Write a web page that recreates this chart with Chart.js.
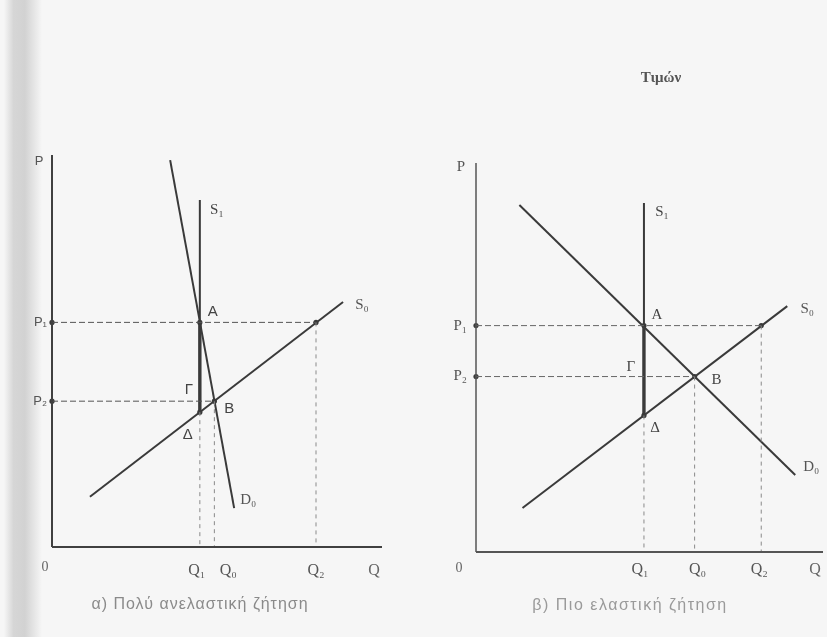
<!DOCTYPE html>
<html>
<head>
<meta charset="utf-8">
<script src="https://cdn.jsdelivr.net/npm/chart.js@4.4.1/dist/chart.umd.min.js"></script>
<style>
html,body{margin:0;padding:0;background:#f6f6f6;width:827px;height:637px;overflow:hidden}
#strip{position:absolute;left:4px;top:0;width:38px;height:637px;
  background:linear-gradient(to right,rgba(214,214,214,0) 0%,#d6d6d6 25%,#d2d2d2 55%,rgba(220,220,220,0) 100%);}
canvas{position:absolute;left:0;top:0}
</style>
</head>
<body>
<div id="strip"></div>
<canvas id="left" width="827" height="637"></canvas>
<canvas id="right" width="827" height="637"></canvas>
<script>
// ---------- data (in diagram units, both axes 0..10) ----------
const axisRange = [0, 10];

// panel α : very inelastic demand
const leftQuantities = [4.48, 4.92, 8.0];   // Q1, Q0, Q2
const leftPrices = [5.73, 3.72];            // P1, P2
const leftD0 = [[3.58, 9.87], [5.52, 0.99]];
const leftS0 = [[1.15, 1.28], [8.82, 6.25]];
const leftS1Top = 8.85;
const leftDeltaPrice = 3.44;

// panel β : more elastic demand
const rightQuantities = [4.84, 6.30, 8.22]; // Q1, Q0, Q2
const rightPrices = [5.82, 4.51];           // P1, P2
const rightD0 = [[1.25, 8.92], [9.20, 1.98]];
const rightS0 = [[1.34, 1.13], [8.97, 6.32]];
const rightS1Top = 8.97;
const rightDeltaPrice = 3.51;

// text
const priceTickLabels = ['P₁', 'P₂'];
const quantityTickLabels = ['Q₁', 'Q₀', 'Q₂'];
const axisNames = ['P', 'Q', '0'];
const curveNames = ['S₁', 'S₀', 'D₀'];
const pointNames = ['A', 'Γ', 'B', 'Δ'];
const captions = ['α) Πολύ ανελαστική ζήτηση', 'β) Πιο ελαστική ζήτηση'];
const headerText = 'Τιμών';

// ---------- styling ----------
const INK = '#3a3a3a';
const SERIF = '"Liberation Serif","DejaVu Serif",serif';
const SANS = '"Liberation Sans","DejaVu Sans",sans-serif';

const pt = (a) => ({x: a[0], y: a[1]});

function buildDatasets(Q, P, D0, S0, s1Top, dP, st) {
  const [q1, q0, q2] = Q, [p1, p2] = P, top = axisRange[1], o = axisRange[0];
  const solid = (data, w, c) => ({data, showLine: true, borderColor: c || INK, borderWidth: w,
    pointRadius: 0, clip: false, tension: 0, fill: false});
  const dashed = (data, c, dash) => ({data, showLine: true, borderColor: c, borderWidth: 1,
    borderDash: dash, pointRadius: 0, clip: false, fill: false});
  return [
    solid([{x: o, y: o}, {x: o, y: top}], st.yAxisW, st.axisColor),
    solid([{x: o, y: o}, {x: top, y: o}], st.xAxisW, st.axisColor),
    dashed([{x: o, y: p1}, {x: q2, y: p1}], st.hDash, [6, 3]),
    dashed([{x: o, y: p2}, {x: q0, y: p2}], st.hDash, [6, 3]),
    dashed([{x: q1, y: dP}, {x: q1, y: o}], st.vDash, [4, 4]),
    dashed([{x: q0, y: p2}, {x: q0, y: o}], st.vDash, [4, 4]),
    dashed([{x: q2, y: p1}, {x: q2, y: o}], st.vDash, [4, 4]),
    solid(D0.map(pt), 2),
    solid(S0.map(pt), 2),
    solid([{x: q1, y: s1Top}, {x: q1, y: p1}], 2),
    solid([{x: q1, y: p1}, {x: q1, y: dP}], 3.4),
    {data: [{x: q1, y: p1}, {x: q0, y: p2}, {x: q2, y: p1}, {x: q1, y: dP},
            {x: o, y: p1}, {x: o, y: p2}],
     showLine: false, pointRadius: 2.6, pointBackgroundColor: INK, pointBorderWidth: 0, clip: false}
  ];
}

function buildLabels(Q, P, D0, S0, s1Top, dP, off) {
  const [q1, q0, q2] = Q, [p1, p2] = P, top = axisRange[1], o = axisRange[0];
  const L = [];
  const add = (text, x, y, d, font, color, align) => L.push({text, x, y, dx: d[0], dy: d[1], font, color, align});
  const f15 = '15px ' + SERIF;
  add(axisNames[0], o, top, off.P, off.pFont, '#555', 'center');
  add(axisNames[1], top, o, off.Q, '16px ' + SERIF, '#666', 'center');
  add(axisNames[2], o, o, off.zero, '14px ' + SERIF, '#666', 'center');
  add(priceTickLabels[0], o, p1, off.p1, off.pFont, '#555', 'right');
  add(priceTickLabels[1], o, p2, off.p2, off.pFont, '#555', 'right');
  add(quantityTickLabels[0], q1, o, off.q1, '16px ' + SERIF, '#555', 'center');
  add(quantityTickLabels[1], q0, o, off.q0, '16px ' + SERIF, '#555', 'center');
  add(quantityTickLabels[2], q2, o, off.q2, '16px ' + SERIF, '#555', 'center');
  add(curveNames[0], q1, s1Top, off.s1, f15, '#444', 'center');
  add(curveNames[1], S0[1][0], S0[1][1], off.s0, f15, '#555', 'center');
  add(curveNames[2], D0[1][0], D0[1][1], off.d0, f15, '#555', 'center');
  add(pointNames[0], q1, p1, off.A, off.ptFont, '#444', 'center');
  add(pointNames[1], q1, p2, off.G, off.ptFont, '#444', 'center');
  add(pointNames[2], q0, p2, off.B, off.ptFont, '#444', 'center');
  add(pointNames[3], q1, dP, off.D, off.ptFont, '#444', 'center');
  return L;
}

const textPlugin = {
  id: 'diagramText',
  afterDatasetsDraw(chart, args, opts) {
    const ctx = chart.ctx, xs = chart.scales.x, ys = chart.scales.y;
    ctx.save();
    ctx.textBaseline = 'middle';
    (opts.items || []).forEach(it => {
      ctx.font = it.font; ctx.fillStyle = it.color; ctx.textAlign = it.align;
      ctx.letterSpacing = '0px';
      ctx.fillText(it.text, xs.getPixelForValue(it.x) + it.dx, ys.getPixelForValue(it.y) + it.dy);
    });
    (opts.free || []).forEach(it => {
      ctx.font = it.font; ctx.fillStyle = it.color; ctx.textAlign = 'center';
      ctx.letterSpacing = it.spacing || '0px';
      ctx.fillText(it.text, it.px, it.py);
    });
    ctx.restore();
  }
};

function makeChart(id, datasets, padding, items, free) {
  return new Chart(document.getElementById(id), {
    type: 'scatter',
    data: {datasets},
    options: {
      responsive: false, animation: false, devicePixelRatio: 1,
      layout: {padding},
      scales: {
        x: {type: 'linear', min: axisRange[0], max: axisRange[1], display: false},
        y: {type: 'linear', min: axisRange[0], max: axisRange[1], display: false}
      },
      plugins: {legend: {display: false}, tooltip: {enabled: false}, diagramText: {items, free}},
      events: []
    },
    plugins: [textPlugin]
  });
}

// ---------- panel α ----------
makeChart('left',
  buildDatasets(leftQuantities, leftPrices, leftD0, leftS0, leftS1Top, leftDeltaPrice,
    {yAxisW: 2, xAxisW: 2, axisColor: '#404040', hDash: '#555', vDash: '#8a8a8a'}),
  {left: 52, right: 445, top: 155, bottom: 90},
  buildLabels(leftQuantities, leftPrices, leftD0, leftS0, leftS1Top, leftDeltaPrice, {
    pFont: '13px ' + SANS, ptFont: '15px ' + SANS,
    P: [-13, 6], Q: [-8, 24], zero: [-7, 20], p1: [-5, 0], p2: [-5, 0],
    q1: [-3, 24], q0: [14, 24], q2: [0, 24],
    s1: [17, 10], s0: [19, 3], d0: [14, -8],
    A: [13, -11], G: [-11, -11], B: [15, 8], D: [-12, 23]
  }),
  [{text: captions[0], px: 200, py: 605, font: '16px ' + SANS, color: '#8a8a8a', spacing: '1px'}]
);

// ---------- panel β ----------
makeChart('right',
  buildDatasets(rightQuantities, rightPrices, rightD0, rightS0, rightS1Top, rightDeltaPrice,
    {yAxisW: 1.5, xAxisW: 2, axisColor: '#555', hDash: '#666', vDash: '#8a8a8a'}),
  {left: 476, right: 0, top: 163, bottom: 85},
  buildLabels(rightQuantities, rightPrices, rightD0, rightS0, rightS1Top, rightDeltaPrice, {
    pFont: '15px ' + SERIF, ptFont: '15px ' + SERIF,
    P: [-15, 4], Q: [-8, 18], zero: [-17, 16], p1: [-9, 0], p2: [-9, 0],
    q1: [-4, 18], q0: [3, 18], q2: [-2, 18],
    s1: [18, 9], s0: [20, 3], d0: [16, -8],
    A: [13, -11], G: [-13, -9], B: [22, 4], D: [11, 13]
  }),
  [{text: captions[1], px: 630, py: 606, font: '16px ' + SANS, color: '#9a9a9a', spacing: '1.5px'},
   {text: headerText, px: 661, py: 78, font: 'bold 15px ' + SERIF, color: '#555'}]
);
</script>
</body>
</html>
